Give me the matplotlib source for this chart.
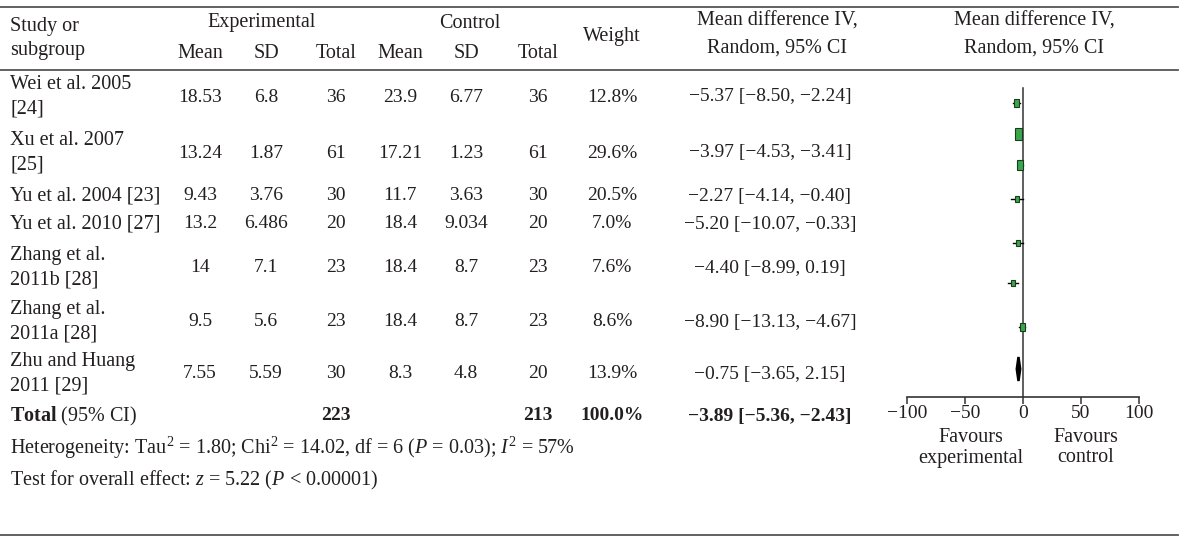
import matplotlib
matplotlib.use("Agg")
import matplotlib.pyplot as plt
from matplotlib.patches import Rectangle, Polygon

plt.rcParams['font.family'] = ['Liberation Serif', 'DejaVu Serif']
plt.rcParams['mathtext.fontset'] = 'custom'
plt.rcParams['mathtext.rm'] = 'Liberation Serif'
plt.rcParams['mathtext.it'] = 'Liberation Serif:italic'
plt.rcParams['mathtext.bf'] = 'Liberation Serif:bold'

# data
studies = ["Wei et al. 2005\n[24]", "Xu et al. 2007\n[25]", "Yu et al. 2004 [23]",
           "Yu et al. 2010 [27]", "Zhang et al.\n2011b [28]", "Zhang et al.\n2011a [28]",
           "Zhu and Huang\n2011 [29]"]
exp_mean = ["18.53", "13.24", "9.43", "13.2", "14", "9.5", "7.55"]
exp_sd = ["6.8", "1.87", "3.76", "6.486", "7.1", "5.6", "5.59"]
exp_n = [36, 61, 30, 20, 23, 23, 30]
ctl_mean = ["23.9", "17.21", "11.7", "18.4", "18.4", "18.4", "8.3"]
ctl_sd = ["6.77", "1.23", "3.63", "9.034", "8.7", "8.7", "4.8"]
ctl_n = [36, 61, 30, 20, 23, 23, 20]
weights = [12.8, 29.6, 20.5, 7.0, 7.6, 8.6, 13.9]
md = [-5.37, -3.97, -2.27, -5.20, -4.40, -8.90, -0.75]
ci_lo = [-8.50, -4.53, -4.14, -10.07, -8.99, -13.13, -3.65]
ci_hi = [-2.24, -3.41, -0.40, -0.33, 0.19, -4.67, 2.15]
total_md, total_lo, total_hi = -3.89, -5.36, -2.43
ticks = [-100, -50, 0, 50, 100]

# layout (pixels from top)
row_y = [97, 153, 196, 224, 268, 322, 374]
total_y = 416
plot_row_y = [103, 134, 165, 199, 243, 283, 327]
diamond_y = 369
col_x = [200, 266, 336, 400, 466, 538, 612, 770]

FS = 14
FS_LAB = 14.5
TXT = '#231f20'
GREEN = '#3aa64c'


def num(v):
    return f"{v:.2f}".replace('-', '\u2212')


fig = plt.figure(figsize=(12, 5.47), dpi=100)
ax = fig.add_axes([0, 0, 1, 1])
ax.set_xlim(0, 1200)
ax.set_ylim(547, 0)
ax.axis('off')

# rules
for y in (7, 70, 535):
    ax.plot([0, 1178], [y, y], color='#555555', lw=1.3)

# header
ax.text(10, 27, "Study or", fontsize=FS_LAB, color=TXT, va='center')
ax.text(10, 50, "subgroup", fontsize=FS_LAB, color=TXT, va='center')
ax.text(262, 23, "Experimental", fontsize=FS_LAB, color=TXT, va='center', ha='center')
ax.text(470, 23, "Control", fontsize=FS_LAB, color=TXT, va='center', ha='center')
for x, lab in zip(col_x[:6], ["Mean", "SD", "Total"] * 2):
    ax.text(x, 54, lab, fontsize=FS_LAB, color=TXT, va='center', ha='center')
ax.text(612, 36, "Weight", fontsize=FS_LAB, color=TXT, va='center', ha='center')
for cx in (777, 1034):
    ax.text(cx, 21, "Mean difference IV,", fontsize=FS_LAB, color=TXT, va='center', ha='center')
    ax.text(cx, 48, "Random, 95% CI", fontsize=FS_LAB, color=TXT, va='center', ha='center')

# study rows
for i, y in enumerate(row_y):
    ax.text(10, y, studies[i], fontsize=FS_LAB, color=TXT, va='center', linespacing=1.4)
    vals = [exp_mean[i], exp_sd[i], str(exp_n[i]), ctl_mean[i], ctl_sd[i],
            str(ctl_n[i]), f"{weights[i]:.1f}%",
            f"{num(md[i])} [{num(ci_lo[i])}, {num(ci_hi[i])}]"]
    for x, v in zip(col_x, vals):
        ax.text(x, y, v, fontsize=FS, color=TXT, va='center', ha='center')

# total row
ax.text(10, total_y, r"$\mathbf{Total}$ (95% CI)", fontsize=FS_LAB, color=TXT, va='center')
tot_vals = [str(sum(exp_n)), str(sum(ctl_n)), "100.0%",
            f"{num(total_md)} [{num(total_lo)}, {num(total_hi)}]"]
for x, v in zip([col_x[2], col_x[5], col_x[6], col_x[7]], tot_vals):
    ax.text(x, total_y, v, fontsize=FS, color=TXT, va='center', ha='center', fontweight='bold')

ax.text(10, 448, r"Heterogeneity: Tau$^2$ = 1.80; Chi$^2$ = 14.02, df = 6 ($P$ = 0.03); $I^2$ = 57%",
        fontsize=FS_LAB, color=TXT, va='center')
ax.text(10, 480, r"Test for overall effect: $z$ = 5.22 ($P$ < 0.00001)",
        fontsize=FS_LAB, color=TXT, va='center')

# forest plot axes, pixel-mapped vertically
x0, x1 = 907, 1139
y_top, y_axis = 80, 397
fa = fig.add_axes([x0 / 1200, 1 - y_axis / 547, (x1 - x0) / 1200, (y_axis - y_top) / 547])
fa.set_xlim(-100, 100)
fa.set_ylim(y_axis, y_top)
fa.patch.set_alpha(0)
for s in ('top', 'right', 'left'):
    fa.spines[s].set_visible(False)
fa.spines['bottom'].set_color('#333333')
fa.spines['bottom'].set_linewidth(1.2)
fa.set_yticks([])
fa.set_xticks(ticks)
fa.set_xticklabels([str(t).replace('-', '\u2212') for t in ticks], fontsize=FS, color=TXT)
fa.tick_params(axis='x', direction='out', length=5, width=1.1, color='#333333', pad=1)

fa.plot([0, 0], [88, y_axis], color='#333333', lw=1.1, clip_on=False)

px_x = 200 / (x1 - x0)  # data units per pixel
for i, y in enumerate(plot_row_y):
    fa.plot([ci_lo[i], ci_hi[i]], [y, y], color='black', lw=1.0)
    h = 2.2 * weights[i] ** 0.5
    w = 1.3 * weights[i] ** 0.5 * px_x
    fa.add_patch(Rectangle((md[i] - w / 2, y - h / 2), w, h, facecolor=GREEN,
                           edgecolor='#1b3b1f', lw=0.8, zorder=3))

fa.add_patch(Polygon([[total_lo, diamond_y], [total_md, diamond_y - 12],
                      [total_hi, diamond_y], [total_md, diamond_y + 12]],
                     closed=True, facecolor='black', edgecolor='black', lw=1.8, zorder=3))

ax.text(971, 437, "Favours", fontsize=FS_LAB, color=TXT, va='center', ha='center')
ax.text(971, 458, "experimental", fontsize=FS_LAB, color=TXT, va='center', ha='center')
ax.text(1086, 437, "Favours", fontsize=FS_LAB, color=TXT, va='center', ha='center')
ax.text(1086, 458, "control", fontsize=FS_LAB, color=TXT, va='center', ha='center')

fig.savefig("out.png", dpi=100)
